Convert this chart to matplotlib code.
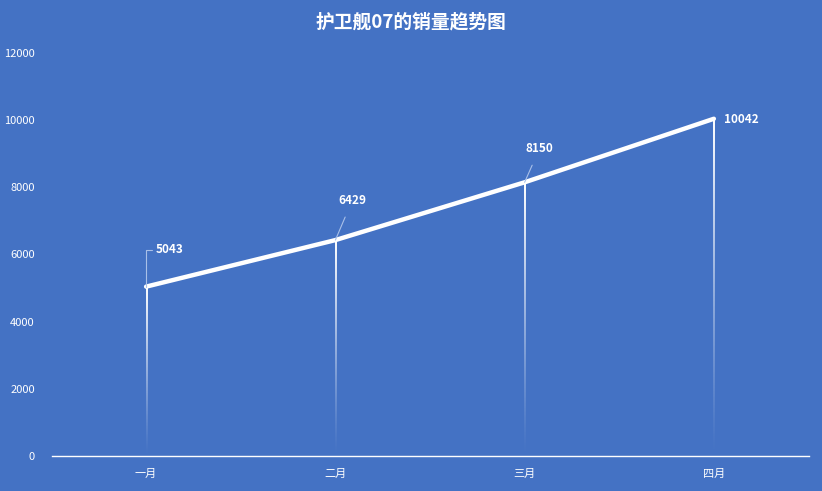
import numpy as np
import matplotlib
matplotlib.use("Agg")
import matplotlib.pyplot as plt

plt.rcParams["font.family"] = ["Noto Sans CJK SC", "DejaVu Sans"]

months = ["一月", "二月", "三月", "四月"]
sales = [5043, 6429, 8150, 10042]
yticks = [0, 2000, 4000, 6000, 8000, 10000, 12000]
title = "护卫舰07的销量趋势图"

bg = "#4472C4"
lead = "#A9C0E8"
# label offsets in pixels (dx, dy)
offsets = [(23, 37), (17, 40), (15, 34), (27, -1)]

fig = plt.figure(figsize=(8.22, 4.91), dpi=100, facecolor=bg)
ax = fig.add_axes([51.5 / 822, 35 / 491, 757 / 822, 403 / 491], facecolor=bg)
x = np.arange(len(months))

# drop lines fading toward the bottom (vertical gradient images)
grad = np.zeros((200, 1, 4))
grad[..., :3] = 1.0
grad[:, 0, 3] = np.linspace(1.0, 0.0, 200) ** 1.2
half_w = 0.6 / 189
for xi, v in zip(x, sales):
    ax.imshow(grad, extent=(xi - half_w, xi + half_w, 0, v), aspect="auto",
              interpolation="bilinear", zorder=2)

ax.plot(x, sales, color="white", lw=3.2, solid_capstyle="round", zorder=3)

for i, (xi, v) in enumerate(zip(x, sales)):
    dx, dy = offsets[i]
    if i == 0:
        ap = dict(arrowstyle="-", color=lead, lw=0.8,
                  connectionstyle="angle,angleA=0,angleB=90,rad=0", shrinkA=0, shrinkB=0)
    elif i < 3:
        ap = dict(arrowstyle="-", color=lead, lw=0.8, shrinkA=6, shrinkB=0)
    else:
        ap = None
    ax.annotate(str(v), (xi, v), xytext=(dx, dy), textcoords="offset pixels",
                ha="center", va="center", color="white", fontsize=8.5,
                fontweight="bold", arrowprops=ap, zorder=4)

ax.set_xlim(-0.5, len(months) - 0.5)
ax.set_ylim(0, 12000)
ax.set_xticks(x)
ax.set_xticklabels(months)
ax.set_yticks(yticks)
ax.tick_params(axis="both", length=0, colors="white", labelsize=8)
ax.tick_params(axis="x", pad=9)
ax.tick_params(axis="y", pad=12)
for s in ["top", "right", "left"]:
    ax.spines[s].set_visible(False)
ax.spines["bottom"].set_color("white")
ax.spines["bottom"].set_linewidth(1.0)

fig.text(0.5, 1 - 22 / 491, title, ha="center", va="center",
         color="white", fontsize=13.5, fontweight="bold")

fig.savefig("out.png", dpi=100, facecolor=bg)
